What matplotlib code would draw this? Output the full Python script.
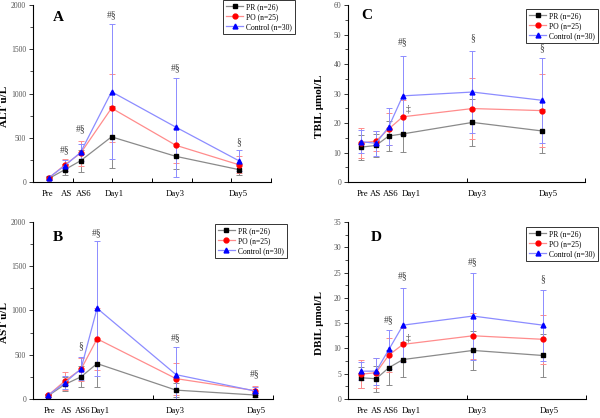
import numpy as np
import matplotlib.pyplot as plt

plt.rcParams['font.family'] = ['Liberation Serif', 'DejaVu Serif']

# =============================================================================
# Data (mean +/- SD)
# =============================================================================
time_labels = ['Pre', 'AS', 'AS6', 'Day1', 'Day3', 'Day5']
groups = ['PR (n=26)', 'PO (n=25)', 'Control (n=30)']

# x position of each time point, as fraction of the axis width
x_alt = [0.067, 0.134, 0.20, 0.33, 0.60, 0.865]
x_ast = [0.0625, 0.133, 0.20, 0.267, 0.596, 0.925]
x_bil = [0.055, 0.118, 0.172, 0.231, 0.525, 0.819]

# where the time labels sit under each axis (not exactly under the points)
lab_alt = [0.063, 0.139, 0.214, 0.340, 0.597, 0.861]
lab_ast = [0.067, 0.138, 0.208, 0.279, 0.592, 0.929]
lab_bil = [0.063, 0.118, 0.181, 0.266, 0.544, 0.844]

alt_pr = [40, 140, 240, 510, 290, 140]
alt_pr_sd = [15, 61, 127, 352, 145, 65]
alt_po = [45, 195, 325, 835, 415, 195]
alt_po_sd = [20, 68, 142, 388, 200, 95]
alt_ctl = [50, 185, 335, 1020, 620, 240]
alt_ctl_sd = [20, 64, 95, 765, 560, 120]

ast_pr = [35, 165, 250, 400, 100, 45]
ast_pr_sd = [15, 80, 120, 260, 80, 20]
ast_po = [40, 205, 335, 680, 230, 95]
ast_po_sd = [15, 100, 130, 350, 180, 50]
ast_ctl = [40, 185, 340, 1025, 275, 90]
ast_ctl_sd = [15, 70, 130, 760, 315, 40]

tbil_pr = [11.8, 12.4, 15.6, 16.3, 20.2, 17.3]
tbil_pr_sd = [4.3, 3.8, 5.1, 6.2, 8.0, 7.6]
tbil_po = [13.2, 13.9, 18.0, 22.1, 24.9, 24.2]
tbil_po_sd = [5.0, 3.5, 5.3, 5.7, 10.3, 12.3]
tbil_ctl = [13.7, 13.1, 18.7, 29.2, 30.5, 27.7]
tbil_ctl_sd = [4.0, 4.3, 6.3, 13.4, 13.8, 14.5]

dbil_pr = [4.2, 4.0, 6.2, 7.8, 9.6, 8.6]
dbil_pr_sd = [2.1, 2.6, 3.4, 3.5, 3.9, 4.2]
dbil_po = [4.9, 5.2, 8.7, 10.8, 12.5, 11.8]
dbil_po_sd = [2.8, 3.0, 3.4, 3.2, 4.5, 4.9]
dbil_ctl = [5.5, 5.5, 9.8, 14.6, 16.4, 14.6]
dbil_ctl_sd = [1.8, 2.7, 3.9, 7.3, 8.6, 7.0]

# significance marks: (time index, text, y value)
alt_marks = [(1, '#§', 362), (2, '#§', 599), (3, '#§', 1887), (4, '#§', 1288), (5, '§', 452)]
ast_marks = [(2, '§', 599), (3, '#§', 1876), (4, '#§', 689), (5, '#§', 282)]
tbil_marks = [(3, '#§', 47.5), (4, '§', 48.8), (5, '§', 45.4)]
dbil_marks = [(2, '#§', 15.6), (3, '#§', 24.3), (4, '#§', 27.1), (5, '§', 23.7)]
tbil_dagger = (3, '‡', 24.7)
dbil_dagger = (3, '‡', 12.1)

# =============================================================================
# Styles
# =============================================================================
markers = ['s', 'o', '^']
mcolors = ['black', 'red', 'blue']
lcolors = ['#8a8a8a', '#ff8c8c', '#8c8cff']


def draw_panel(ax, xpos, xlab, series, ylim, ymajor, ylabel, letter, letter_pos,
               marks, xticks, legend_anchor, dagger=None):
    for (mean, sd), mk, mc, lc, name in zip(series, markers, mcolors, lcolors, groups):
        ax.errorbar(xpos, mean, yerr=sd, fmt='none', ecolor=lc, elinewidth=0.7,
                    capsize=2, capthick=0.7, zorder=2)
        ax.plot(xpos, mean, '-', color=lc, lw=0.9, marker=mk, ms=3.5,
                mfc=mc, mec=mc, label=name, zorder=3)

    ax.set_xlim(0, 1)
    ax.set_ylim(*ylim)
    ax.spines['top'].set_visible(False)
    ax.spines['right'].set_visible(False)
    for s in ['left', 'bottom']:
        ax.spines[s].set_linewidth(0.8)

    ax.set_yticks(np.arange(ylim[0], ylim[1] + 0.001, ymajor))
    ax.set_yticks(np.arange(ylim[0], ylim[1] + 0.001, ymajor / 2), minor=True)
    ax.tick_params(axis='y', which='major', direction='out', length=3, width=0.7,
                   labelsize=5.5, pad=2, colors='#333333', labelcolor='#555555')
    ax.tick_params(axis='y', which='minor', direction='out', length=2, width=0.6,
                   colors='#333333')

    # tick marks on x axis, time labels as zero-length minor ticks
    ax.set_xticks(xticks)
    ax.set_xticklabels([])
    ax.tick_params(axis='x', which='major', direction='in', length=3, width=0.7)
    ax.set_xticks(xlab, minor=True)
    ax.set_xticklabels(time_labels, minor=True)
    ax.tick_params(axis='x', which='minor', length=0, labelsize=6.3, pad=6)

    ax.set_ylabel(ylabel, fontsize=8, fontweight='bold')
    ax.yaxis.set_label_coords(-0.1, 0.43)
    ax.text(letter_pos[0], letter_pos[1], letter, transform=ax.transAxes, fontsize=11,
            fontweight='bold', ha='center', va='center')

    for i, txt, y in marks:
        ax.text(xpos[i], y, txt, fontsize=7, ha='center', va='center', color='#444444')
    if dagger is not None:
        i, txt, y = dagger
        ax.annotate(txt, (xpos[i], y), xytext=(4, 0), textcoords='offset points',
                    fontsize=7, ha='center', va='center', color='#444444')

    leg = ax.legend(loc='upper right', bbox_to_anchor=legend_anchor,
                    bbox_transform=ax.figure.transFigure, fontsize=5.5,
                    frameon=True, fancybox=False, handlelength=2.2,
                    borderpad=0.4, labelspacing=0.25, handletextpad=0.4,
                    borderaxespad=0)
    leg.get_frame().set_edgecolor('black')
    leg.get_frame().set_linewidth(0.7)


fig = plt.figure(figsize=(6, 4.18), dpi=100)

ax_a = fig.add_axes([0.055, 0.5646, 0.3967, 0.4234])
ax_b = fig.add_axes([0.055, 0.0455, 0.40, 0.4234])
ax_c = fig.add_axes([0.58, 0.5646, 0.395, 0.4234])
ax_d = fig.add_axes([0.58, 0.0455, 0.3967, 0.4234])

draw_panel(ax_a, x_alt, lab_alt,
           [(alt_pr, alt_pr_sd), (alt_po, alt_po_sd), (alt_ctl, alt_ctl_sd)],
           (0, 2000), 500, 'ALT u/L', 'A', (0.105, 0.927), alt_marks,
           [1 / 6, 2 / 6, 3 / 6, 4 / 6, 5 / 6, 1.0], (0.492, 1.0))
draw_panel(ax_b, x_ast, lab_ast,
           [(ast_pr, ast_pr_sd), (ast_po, ast_po_sd), (ast_ctl, ast_ctl_sd)],
           (0, 2000), 500, 'AST u/L', 'B', (0.104, 0.915), ast_marks,
           [0.5, 1.0], (0.478, 1 - 224 / 418))
draw_panel(ax_c, x_bil, lab_bil,
           [(tbil_pr, tbil_pr_sd), (tbil_po, tbil_po_sd), (tbil_ctl, tbil_ctl_sd)],
           (0, 60), 10, 'TBIL μmol/L', 'C', (0.08, 0.938), tbil_marks,
           [0.5, 1.0], (0.997, 1 - 9 / 418), dagger=tbil_dagger)
draw_panel(ax_d, x_bil, lab_bil,
           [(dbil_pr, dbil_pr_sd), (dbil_po, dbil_po_sd), (dbil_ctl, dbil_ctl_sd)],
           (0, 35), 5, 'DBIL μmol/L', 'D', (0.118, 0.915), dbil_marks,
           [0.5, 1.0], (0.997, 1 - 227 / 418), dagger=dbil_dagger)

fig.savefig('out.png', dpi=100)
